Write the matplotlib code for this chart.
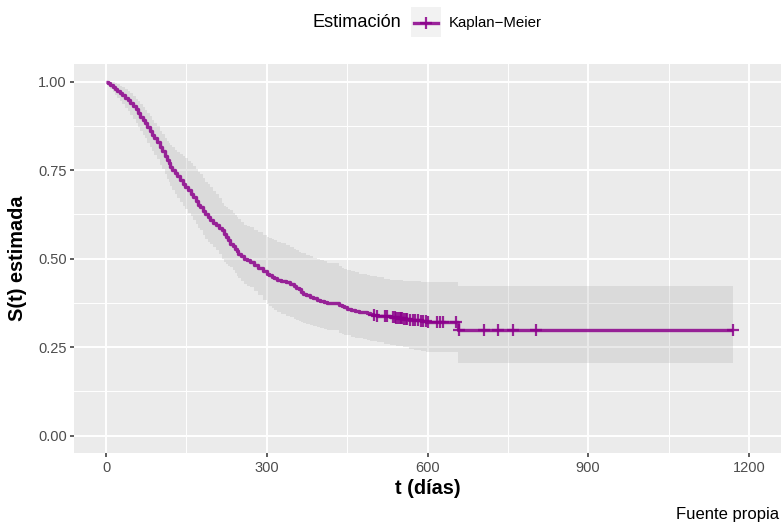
import numpy as np
import matplotlib
matplotlib.use("Agg")
import matplotlib.pyplot as plt
from matplotlib.lines import Line2D
from matplotlib.patches import Rectangle

W, H = 783, 525
plt.rcParams["font.family"] = ["Liberation Sans", "DejaVu Sans"]

# Kaplan-Meier estimate: step times (days), survival after each step and
# the pointwise confidence limits at the same times
km_time = [0, 4, 8, 12, 16, 20, 25, 30, 35, 40, 45, 50, 55, 59, 63, 68, 72,
           77, 82, 86, 90, 95, 101, 105, 110, 114, 117, 120, 123, 128, 133,
           138, 144, 148, 153, 158, 163, 168, 172, 175, 180, 185, 190, 194,
           199, 205, 210, 216, 220, 224, 228, 231, 236, 240, 244, 247, 252,
           258, 263, 269, 276, 284, 292, 300, 305, 310, 314, 319, 327, 335,
           343, 350, 355, 360, 364, 368, 374, 380, 386, 393, 400, 406, 412,
           435, 440, 445, 449, 457, 465, 472, 480, 487, 493, 499, 505, 518,
           530, 542, 555, 565, 575, 587, 598, 657]
km_surv = [1.000, 0.996, 0.990, 0.985, 0.980, 0.975, 0.968, 0.962, 0.955,
           0.948, 0.940, 0.932, 0.922, 0.912, 0.900, 0.891, 0.882, 0.871,
           0.860, 0.850, 0.840, 0.829, 0.816, 0.803, 0.790, 0.779, 0.770,
           0.760, 0.750, 0.742, 0.733, 0.723, 0.712, 0.703, 0.693, 0.684,
           0.674, 0.662, 0.653, 0.646, 0.636, 0.626, 0.617, 0.608, 0.601,
           0.594, 0.587, 0.580, 0.571, 0.562, 0.552, 0.542, 0.535, 0.528,
           0.521, 0.514, 0.507, 0.500, 0.495, 0.490, 0.482, 0.474, 0.465,
           0.457, 0.453, 0.449, 0.445, 0.441, 0.437, 0.433, 0.429, 0.424,
           0.418, 0.413, 0.406, 0.400, 0.396, 0.392, 0.388, 0.384, 0.381,
           0.378, 0.375, 0.370, 0.366, 0.362, 0.358, 0.355, 0.352, 0.350,
           0.348, 0.346, 0.344, 0.341, 0.339, 0.337, 0.335, 0.333, 0.330,
           0.328, 0.326, 0.324, 0.322, 0.297]
ci_lower = [1.000, 0.988, 0.978, 0.970, 0.962, 0.955, 0.945, 0.936, 0.926,
            0.917, 0.906, 0.896, 0.884, 0.873, 0.861, 0.850, 0.840, 0.828,
            0.815, 0.804, 0.793, 0.781, 0.766, 0.752, 0.738, 0.726, 0.717,
            0.706, 0.693, 0.683, 0.672, 0.661, 0.650, 0.640, 0.630, 0.620,
            0.610, 0.598, 0.588, 0.580, 0.568, 0.556, 0.546, 0.540, 0.532,
            0.524, 0.512, 0.500, 0.490, 0.484, 0.480, 0.476, 0.468, 0.460,
            0.452, 0.446, 0.438, 0.428, 0.424, 0.419, 0.408, 0.396, 0.384,
            0.372, 0.366, 0.360, 0.355, 0.350, 0.344, 0.339, 0.334, 0.330,
            0.327, 0.324, 0.321, 0.318, 0.315, 0.312, 0.309, 0.306, 0.303,
            0.300, 0.297, 0.290, 0.288, 0.285, 0.283, 0.280, 0.277, 0.275,
            0.272, 0.270, 0.268, 0.266, 0.264, 0.259, 0.256, 0.252, 0.249,
            0.246, 0.242, 0.239, 0.236, 0.205]
ci_upper = [1.000, 1.000, 1.000, 0.998, 0.996, 0.993, 0.989, 0.985, 0.980,
            0.975, 0.967, 0.960, 0.952, 0.945, 0.936, 0.928, 0.920, 0.912,
            0.902, 0.893, 0.884, 0.874, 0.862, 0.851, 0.840, 0.832, 0.826,
            0.821, 0.815, 0.806, 0.800, 0.795, 0.790, 0.784, 0.777, 0.770,
            0.763, 0.752, 0.745, 0.740, 0.728, 0.716, 0.710, 0.703, 0.692,
            0.682, 0.670, 0.658, 0.650, 0.645, 0.641, 0.637, 0.630, 0.623,
            0.617, 0.612, 0.604, 0.596, 0.592, 0.589, 0.582, 0.576, 0.568,
            0.561, 0.558, 0.555, 0.552, 0.548, 0.543, 0.538, 0.533, 0.528,
            0.524, 0.520, 0.517, 0.515, 0.511, 0.507, 0.503, 0.500, 0.496,
            0.492, 0.488, 0.478, 0.474, 0.470, 0.468, 0.464, 0.461, 0.458,
            0.456, 0.454, 0.452, 0.450, 0.448, 0.443, 0.441, 0.439, 0.438,
            0.437, 0.436, 0.435, 0.435, 0.422]
km_end = 1171

# Censored observations (days)
censor_time = [500, 505, 521, 525, 536, 539, 542, 545, 548, 550, 553, 556,
               559, 561, 567, 572, 577, 582, 587, 592, 597, 601, 617, 623,
               629, 654, 659, 705, 731, 760, 802, 1171]

x_ticks = [0, 300, 600, 900, 1200]
x_minor = [150, 450, 750, 1050]
y_ticks = [0.00, 0.25, 0.50, 0.75, 1.00]
y_minor = [0.125, 0.375, 0.625, 0.875]
y_tick_labels = ["0.00", "0.25", "0.50", "0.75", "1.00"]

LINE_COL = "#8B008B"
TXT = "#4D4D4D"

fig = plt.figure(figsize=(W / 100, H / 100), dpi=100)
fig.patch.set_facecolor("white")

px_l, px_r, px_t, px_b = 74, 781, 64, 453.3
ax = fig.add_axes([px_l / W, 1 - px_b / H, (px_r - px_l) / W, (px_b - px_t) / H])
ax.set_facecolor("#EBEBEB")
for s in ax.spines.values():
    s.set_visible(False)

ax.set_xlim(-60, 1260)
ax.set_ylim(-0.05, 1.05)

# grid
for v in x_minor:
    ax.axvline(v, color="white", lw=0.7, zorder=0)
for v in y_minor:
    ax.axhline(v, color="white", lw=0.7, zorder=0)
for v in x_ticks:
    ax.axvline(v, color="white", lw=1.4, zorder=0)
for v in y_ticks:
    ax.axhline(v, color="white", lw=1.4, zorder=0)

t_all = km_time + [km_end]

# confidence band
ax.fill_between(t_all, ci_lower + [ci_lower[-1]], ci_upper + [ci_upper[-1]],
                step="post", color="#999999", alpha=0.2, lw=0, zorder=1)

# survival curve
ax.step(t_all, km_surv + [km_surv[-1]], where="post",
        color=LINE_COL, alpha=0.85, lw=2.4, zorder=2, solid_capstyle="butt")

# censor marks sit on the current step level
idx = np.searchsorted(km_time, censor_time, side="right") - 1
censor_surv = np.asarray(km_surv)[idx]
ax.plot(censor_time, censor_surv, ls="none", marker="+", ms=8, mew=1.6,
        color=LINE_COL, alpha=0.85, zorder=3)

ax.set_xticks(x_ticks)
ax.set_xticklabels([str(v) for v in x_ticks])
ax.set_yticks(y_ticks)
ax.set_yticklabels(y_tick_labels)
ax.tick_params(axis="both", length=3.2, width=1.1, color="#333333",
               labelcolor=TXT, labelsize=10.5, pad=2)

# axis titles and caption
fig.text(427.5 / W, 1 - 488 / H, "t (días)", ha="center", va="center",
         fontsize=14.3, fontweight="bold", color="black")
fig.text(18 / W, 1 - 258.5 / H, "S(t) estimada", ha="center", va="center",
         rotation=90, fontsize=14.3, fontweight="bold", color="black")
fig.text(779 / W, 1 - 515 / H, "Fuente propia", ha="right", va="center",
         fontsize=12, color="black")

# legend on top
fig.text(312 / W, 1 - 22.5 / H, "Estimación", ha="left", va="center",
         fontsize=13.1, color="black")
fig.add_artist(Rectangle((411 / W, 1 - 37 / H), 30 / W, 30 / H,
                         transform=fig.transFigure, facecolor="#F2F2F2",
                         edgecolor="none"))
fig.add_artist(Line2D([414 / W, 438 / W], [1 - 22.5 / H, 1 - 22.5 / H],
                      transform=fig.transFigure, color=LINE_COL, alpha=0.85,
                      lw=2.4))
fig.add_artist(Line2D([426 / W], [1 - 22.5 / H], transform=fig.transFigure,
                      ls="none", marker="+", ms=8, mew=1.6, color=LINE_COL,
                      alpha=0.85))
fig.text(449 / W, 1 - 22.5 / H, "Kaplan\u2212Meier", ha="left", va="center",
         fontsize=10.8, color="black")

fig.savefig("out.png", dpi=100)
